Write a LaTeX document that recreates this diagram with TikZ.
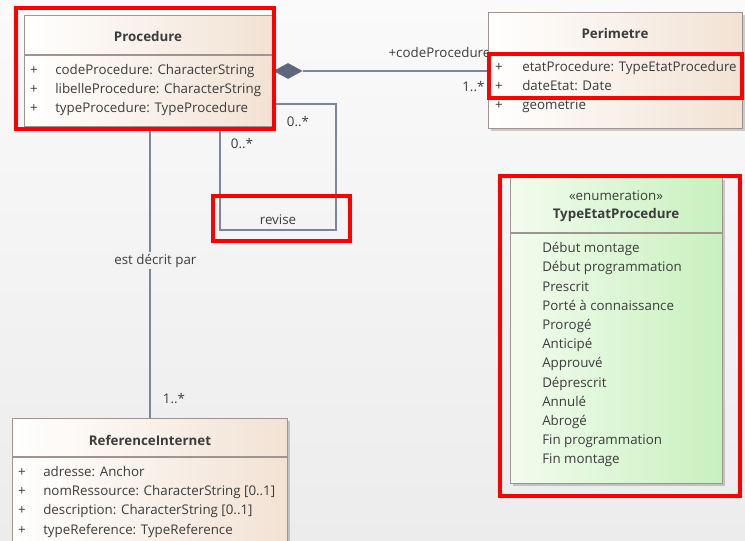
\documentclass[tikz,border=0pt]{standalone}
\usepackage{fontspec}
\setmainfont{Open Sans}
\usepackage{tikz}
\usetikzlibrary{shadows, shapes.geometric}

\definecolor{bgtop}{RGB}{250,250,250}
\definecolor{bgbot}{RGB}{236,236,236}
\definecolor{umltext}{RGB}{60,60,60}
\definecolor{classbeige}{RGB}{242,226,212}
\definecolor{enumlight}{RGB}{242,252,238}
\definecolor{enumgreen}{RGB}{200,240,190}
\definecolor{boxborder}{RGB}{160,148,145}
\definecolor{umlline}{RGB}{125,133,155}
\definecolor{diamondfill}{RGB}{95,103,125}

\tikzset{
  classbox/.style={draw=boxborder, line width=0.8pt, left color=white, right color=classbeige,
    anchor=north west, inner sep=0pt,
    drop shadow={shadow xshift=1.5pt, shadow yshift=-1.5pt, fill=black, opacity=0.18}},
  enumbox/.style={classbox, left color=enumlight, right color=enumgreen},
  classname/.style={font=\fontsize{10}{12}\selectfont\bfseries, text=umltext, inner sep=1pt},
  attr/.style={anchor=base west, text=umltext, inner sep=0pt},
  plus/.style={anchor=base, text=umltext, inner sep=0pt},
  assoc/.style={draw=umlline, line width=0.9pt},
  mult/.style={text=umltext, inner sep=1pt},
  lbl/.style={text=umltext, inner sep=1.5pt, fill=bgbot!60!bgtop},
  highlight/.style={draw=red, line width=3pt},
}

\begin{document}
\begin{tikzpicture}[x=0.75pt, y=-0.75pt, font=\fontsize{10}{12}\selectfont]
      \useasboundingbox (0,0) rectangle (745,541);
      \clip (0,0) rectangle (745,541);
      \shade[top color=bgtop, bottom color=bgbot] (0,0) rectangle (745,541);

      \node[mult, anchor=west] (lCode) at (387,53) {+codeProcedure};

      \node[classbox, minimum width=186pt, minimum height=83.25pt] (proc) at (24,15) {};
      \node[classname] (procT) at (148,37) {Procedure};
      \draw[boxborder, line width=0.8pt] (24,55) -- (272,55);
      \foreach \txt [count=\i] in {codeProcedure: CharacterString, libelleProcedure: CharacterString, typeProcedure: TypeProcedure} {
        \node[plus] (procP\i) at (34,55.5+19*\i) {+};
        \node[attr] (procA\i) at (55,55.5+19*\i) {\txt};
      }

      \node[classbox, minimum width=190.5pt, minimum height=87pt] (perim) at (488,12) {};
      \node[classname] (perimT) at (615,34) {Perimetre};
      \draw[boxborder, line width=0.8pt] (488,55) -- (742,55);
      \foreach \txt [count=\i] in {etatProcedure: TypeEtatProcedure, dateEtat: Date, geometrie} {
        \node[plus] (perimP\i) at (499,52.5+19*\i) {+};
        \node[attr] (perimA\i) at (522,52.5+19*\i) {\txt};
      }

      \node[enumbox, minimum width=159pt, minimum height=229.5pt] (etat) at (510,177) {};
      \node[mult] (etatS) at (616,196) {«enumeration»};
      \node[classname] (etatT) at (616,215) {TypeEtatProcedure};
      \draw[boxborder, line width=0.8pt] (510,233) -- (722,233);
      \foreach \txt [count=\i] in {Début montage, Début programmation, Prescrit, Porté à connaissance, Prorogé, Anticipé, Approuvé, Déprescrit, Annulé, Abrogé, Fin programmation, Fin montage} {
        \node[attr] (etatA\i) at (542,233.6+19.18*\i) {\txt};
      }

      \node[classbox, minimum width=206.25pt, minimum height=106.5pt] (refint) at (12,418) {};
      \node[classname] (refintT) at (150,440) {ReferenceInternet};
      \draw[boxborder, line width=0.8pt] (12,457) -- (287,457);
      \foreach \txt [count=\i] in {adresse: Anchor, nomRessource: CharacterString [0..1], description: CharacterString [0..1], typeReference: TypeReference} {
        \node[plus] (refintP\i) at (22,457+19.3*\i) {+};
        \node[attr] (refintA\i) at (43,457+19.3*\i) {\txt};
      }

      \node[diamond, fill=diamondfill, inner sep=0pt, minimum width=22pt, minimum height=12pt, anchor=west] (comp) at (proc.east |- 0,71) {};
      \draw[assoc] (comp.east) -- (comp.east -| perim.west);

      \coordinate (loopC) at (336,230);
      \draw[assoc] (proc.east |- 0,104) -| (loopC) -| (proc.south -| 220,0);

      \draw[assoc] (refint.north |- proc.south) -- node[lbl, pos=0.459, xshift=4pt] (descr) {est décrit par} (refint.north);

      \node[mult, anchor=east] (mPerim) at (486,87) {1..*};
      \node[mult] (mLoop1) at (298,122) {0..*};
      \node[mult] (mLoop2) at (242,144) {0..*};
      \node[mult] (lRevise) at (278,220) {revise};
      \node[mult] (mRef) at (174,399) {1..*};

      \draw[highlight] (16,8) rectangle (274,129);
      \draw[highlight] (213,196) rectangle (350,241);
      \draw[highlight] (489,54) rectangle (742,98);
      \draw[highlight] (500,176) rectangle (740,496);
    \end{tikzpicture}
\end{document}
